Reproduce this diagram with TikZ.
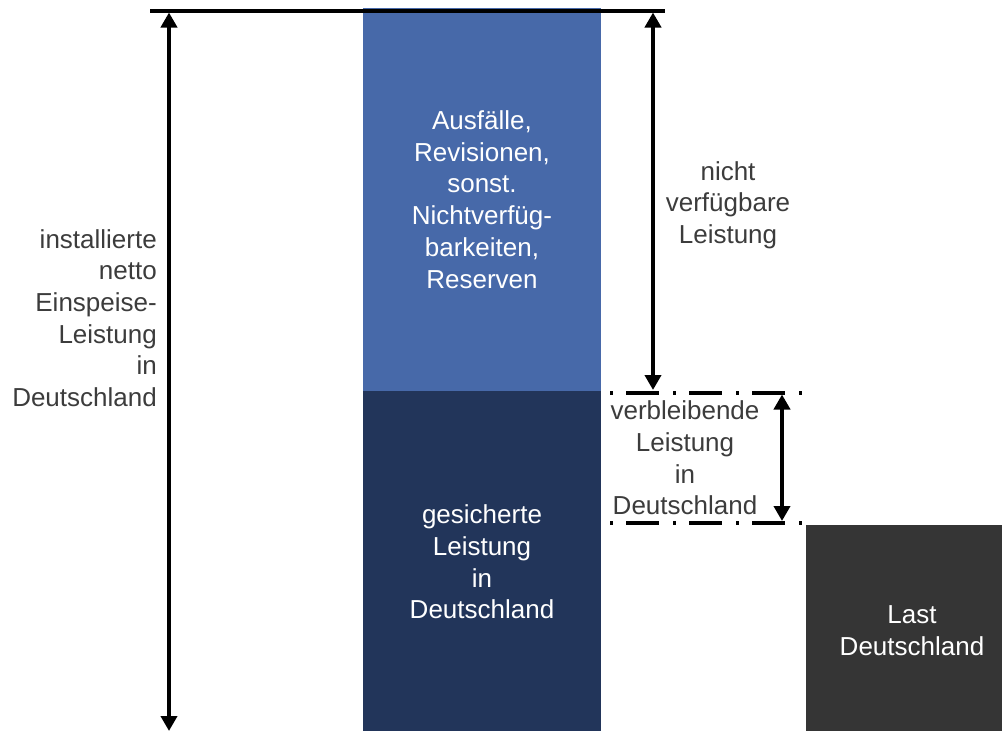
\documentclass[tikz,border=0pt]{standalone}
\usepackage{fontspec}
\setmainfont{Liberation Sans}
\usetikzlibrary{arrows.meta}
\definecolor{lightbar}{HTML}{4769A9}
\definecolor{darkbar}{HTML}{22355A}
\definecolor{loadbar}{HTML}{353535}
\definecolor{labelgray}{HTML}{3C3C3C}
\tikzset{
  bar/.style={draw=none, inner sep=0pt, outer sep=0pt},
  lbl/.style={inner sep=0pt, align=center, font=\fontsize{26}{31.7}\selectfont},
  whitelbl/.style={lbl, text=white},
  graylbl/.style={lbl, text=labelgray},
  dim/.style={line width=4pt, {Triangle[width=16pt,length=15pt]}-{Triangle[width=16pt,length=15pt]}},
  dashdot/.style={line width=4pt, dash pattern=on 3pt off 13pt on 33pt off 14pt},
}
\begin{document}
\begin{tikzpicture}[x=1pt,y=-1pt]
\useasboundingbox (0,0) rectangle (1002,731);
% bars
\node[bar, fill=lightbar, minimum width=238pt, minimum height=383pt] (avail) at (482,199.5) {};
\node[bar, fill=darkbar, minimum width=238pt, minimum height=340pt] (secure) at (482,561) {};
\node[bar, fill=loadbar, minimum width=200pt, minimum height=206pt] (load) at (906,628) {};
% top line
\coordinate (tl) at (150,10.5);
\coordinate (tr) at (665,10.5);
\draw[line width=4pt] (tl) -- (tr);
% dash-dot lines
\coordinate (d1a) at (610,392.5);
\coordinate (d1b) at (802,392.5);
\coordinate (d2a) at (610,523);
\coordinate (d2b) at (802,523);
\draw[dashdot] (d1a) -- (d1b);
\draw[dashdot] (d2a) -- (d2b);
% dimension arrows
\coordinate (la) at (169,12.5);
\coordinate (lb) at (169,731);
\coordinate (ra) at (653,12.5);
\coordinate (rb) at (653,390);
\coordinate (sa) at (782,394.5);
\coordinate (sb) at (782,521);
\draw[dim] (la) -- (lb);
\draw[dim] (ra) -- (rb);
\draw[dim] (sa) -- (sb);
% labels
\node[whitelbl] (t1) at (482,199.5) {Ausfälle,\\Revisionen,\\sonst.\\Nichtverfüg-\\barkeiten,\\Reserven};
\node[whitelbl] (t2) at (482,562) {gesicherte\\Leistung\\in\\Deutschland};
\node[whitelbl] (t3) at (912,630.5) {Last\\Deutschland};
\node[graylbl, align=right, anchor=east] (t4) at (157,318) {installierte\\netto\\Einspeise-\\Leistung\\in\\Deutschland};
\node[graylbl] (t5) at (728,205) {nicht\\verfügbare\\Leistung};
\node[graylbl] (t6) at (685,458) {verbleibende\\Leistung\\in\\Deutschland};
\end{tikzpicture}
\end{document}
